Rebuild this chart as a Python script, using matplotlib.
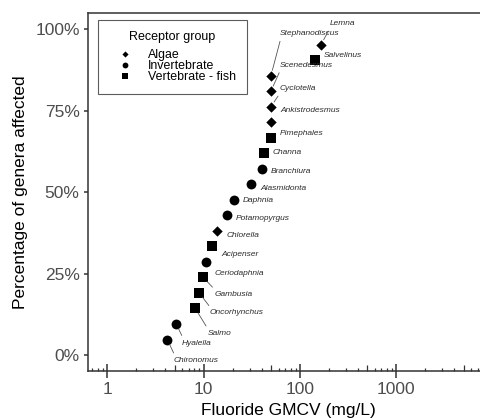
import numpy as np
import matplotlib
matplotlib.use('Agg')
import matplotlib.pyplot as plt
from matplotlib.ticker import FixedLocator, NullFormatter, FuncFormatter

plt.rcParams['font.family'] = ['Liberation Sans', 'DejaVu Sans']

# genera sorted by fluoride GMCV (mg/L)
genera = ['Chironomus', 'Hyalella', 'Salmo', 'Oncorhynchus', 'Gambusia',
          'Ceriodaphnia', 'Acipenser', 'Chlorella', 'Potamopyrgus', 'Daphnia',
          'Alasmidonta', 'Branchiura', 'Channa', 'Pimephales', 'Ankistrodesmus',
          'Cyclotella', 'Scenedesmus', 'Stephanodiscus', 'Salvelinus', 'Lemna']
gmcv = [4.2, 5.2, 8.2, 9.0, 9.9, 10.6, 12.2, 13.8, 17.5, 20.7,
        31.1, 40.4, 42.4, 50.0, 50.0, 50.0, 50.0, 50.0, 143.6, 165.6]
pct = [4.76, 9.52, 14.29, 19.05, 23.81, 28.57, 33.33, 38.10, 42.86, 47.62,
       52.38, 57.14, 61.90, 66.67, 71.43, 76.19, 80.95, 85.71, 90.48, 95.24]
group = ['Invertebrate', 'Invertebrate', 'Vertebrate - fish', 'Vertebrate - fish',
         'Vertebrate - fish', 'Invertebrate', 'Vertebrate - fish', 'Algae',
         'Invertebrate', 'Invertebrate', 'Invertebrate', 'Invertebrate',
         'Vertebrate - fish', 'Vertebrate - fish', 'Algae', 'Algae', 'Algae',
         'Algae', 'Vertebrate - fish', 'Algae']

# label offsets from the point, in pixels (x right, y up)
lab_dx = [6, 6, 12, 10, 11, 9, 9, 9, 9, 9, 9, 9, 9, 9, 9, 9, 9, 9, 9, 9]
lab_dy = [-21, -19, -25, -20, -17, -12, -8, -5, -3, -1,
          -4, -3, 1, 4, 12, 18, 26, 42, 5, 21]

groups = ['Algae', 'Invertebrate', 'Vertebrate - fish']
markers = {'Algae': ('D', 28), 'Invertebrate': ('o', 50), 'Vertebrate - fish': ('s', 44)}

fig = plt.figure(figsize=(4.81, 4.18), dpi=100)
ax = fig.add_axes([88/481, 1-371/418, 1-88/481, (371-12.5)/418])

gmcv = np.array(gmcv)
pct = np.array(pct)
group = np.array(group)
for g in groups:
    m, s = markers[g]
    sel = group == g
    ax.scatter(gmcv[sel], pct[sel], marker=m, s=s, c='black', linewidths=0, label=g, zorder=3)

for i, name in enumerate(genera):
    dist = np.hypot(lab_dx[i], lab_dy[i])
    if dist > 15:
        rel = (0.05, 1.0) if lab_dy[i] < 0 else (0.02, 0.0)
        arrow = dict(arrowstyle='-', color='#555555', lw=0.6, shrinkA=1, shrinkB=4, relpos=rel)
    else:
        arrow = None
    ax.annotate(name, (gmcv[i], pct[i]), xytext=(lab_dx[i], lab_dy[i]),
                textcoords='offset pixels', ha='left', va='center',
                fontsize=6, style='italic', color='#2b2b2b', arrowprops=arrow)

ax.set_xscale('log')
ax.set_xlim(10**-0.2, 10**3.88)
ax.set_ylim(-4.9, 105.1)

ax.xaxis.set_major_locator(FixedLocator([1, 10, 100, 1000]))
ax.xaxis.set_major_formatter(FuncFormatter(lambda v, p: '%g' % v))
minor = [m * 10.0**k for k in range(-1, 4) for m in range(2, 10)]
ax.xaxis.set_minor_locator(FixedLocator(minor))
ax.xaxis.set_minor_formatter(NullFormatter())
ax.tick_params(axis='x', which='major', direction='inout', length=10, width=1.1,
               color='#333333', labelsize=12.5, labelcolor='#4D4D4D', pad=3)
ax.tick_params(axis='x', which='minor', direction='in', length=2.2, width=0.9, color='#333333')
for loc, t in zip(minor, ax.xaxis.get_minor_ticks(len(minor))):
    if abs(loc / 10**np.floor(np.log10(loc)) - 5) < 1e-6:
        t.tick1line.set_markersize(4.3)

ax.set_yticks([0, 25, 50, 75, 100])
ax.set_yticklabels(['0%', '25%', '50%', '75%', '100%'])
ax.tick_params(axis='y', direction='out', length=3, width=1.1, color='#333333',
               labelsize=12.5, labelcolor='#4D4D4D', pad=3)

ax.spines['right'].set_visible(False)
for sp in ['left', 'bottom', 'top']:
    ax.spines[sp].set_color('#333333')
    ax.spines[sp].set_linewidth(1.1)

ax.set_xlabel('Fluoride GMCV (mg/L)', fontsize=12.5)
ax.set_ylabel('Percentage of genera affected', fontsize=12.5)
ax.xaxis.set_label_coords(0.51, -0.089)
ax.yaxis.set_label_coords(-0.152, 0.5)

leg = ax.legend(title='Receptor group', loc='upper left', bbox_to_anchor=(0.025, 0.979),
                borderaxespad=0, fontsize=8.9, title_fontsize=9, frameon=True,
                fancybox=False, edgecolor='#333333', labelspacing=-0.08,
                handletextpad=0.56, borderpad=0.9, handlelength=2.6)
leg.get_frame().set_linewidth(0.8)
leg._legend_box.align = 'center'
leg._legend_box.sep = 4
# legend keys are drawn smaller than the points in the panel
for h, g in zip(leg.legend_handles, groups):
    h.set_sizes([markers[g][1] * 0.35])

fig.savefig('out.png', dpi=100)
